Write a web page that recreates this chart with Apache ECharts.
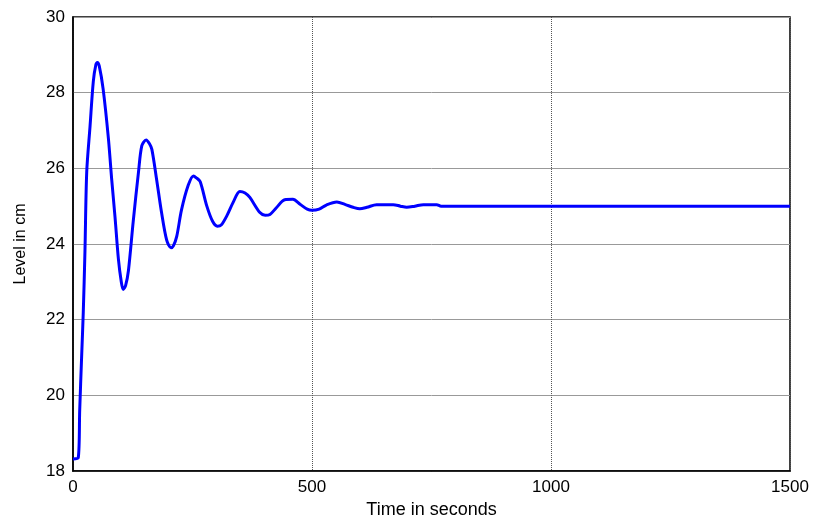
<!DOCTYPE html>
<html lang="en">
<head>
    <meta charset="UTF-8">
    <title>Level in cm</title>
    <script src="https://cdn.jsdelivr.net/npm/echarts@6/dist/echarts.min.js"></script>
    <style>
        body { margin: 0; background: #fff; }
        #chart { width: 816px; height: 524px; }
    </style>
</head>
<body>
<div id="chart"></div>
<script>
var times = [0, 11, 14, 18, 21.5, 25, 28.7, 35.6, 42.5, 48, 51, 55, 63, 74, 81, 88, 95, 101, 105, 110,
    116, 126, 137, 144, 153, 160, 165, 175, 185, 196, 205, 210, 217, 227, 241, 252, 258, 266, 280, 292,
    302, 310, 322, 335, 349, 360, 370, 391, 402, 412, 425, 443, 460, 475, 490, 500, 515, 530, 552, 570,
    586, 600, 615, 635, 670, 685, 698, 715, 733, 761, 770, 1500];
var levels = [18.32, 18.35, 19.6, 21.0, 22.2, 23.8, 25.9, 27.1, 28.3, 28.75, 28.8, 28.7, 28.1, 26.8, 25.7, 24.7, 23.6, 23.0, 22.8, 22.9,
    23.3, 24.6, 25.9, 26.6, 26.75, 26.65, 26.5, 25.7, 24.85, 24.1, 23.9, 23.95, 24.2, 24.9, 25.55, 25.8, 25.75, 25.65, 25.0, 24.6,
    24.47, 24.5, 24.75, 25.1, 25.39, 25.35, 25.23, 24.83, 24.76, 24.78, 24.95, 25.17, 25.18, 25.05, 24.92, 24.89, 24.92, 25.03, 25.11, 25.04,
    24.97, 24.93, 24.97, 25.04, 25.04, 25.0, 24.97, 25.0, 25.04, 25.04, 25.0, 25.0];
var xTicks = [0, 500, 1000, 1500];
var yTicks = [18, 20, 22, 24, 26, 28, 30];

var points = [];
for (var i = 0; i < times.length; i++) {
    points.push([times[i], levels[i]]);
}

var font = 'Liberation Sans, Arial, sans-serif';
var chart = echarts.init(document.getElementById('chart'));
var option = {
    animation: false,
    backgroundColor: '#fff',
    grid: {
        left: 73, right: 26, top: 17, bottom: 51,
        show: true,
        borderColor: '#000',
        borderWidth: 1.5
    },
    xAxis: {
        type: 'value',
        min: xTicks[0],
        max: xTicks[xTicks.length - 1],
        interval: 500,
        name: 'Time in seconds',
        nameLocation: 'middle',
        nameGap: 30,
        nameTextStyle: { fontFamily: font, fontSize: 18, color: '#000' },
        axisLine: { show: true, lineStyle: { color: '#000', width: 1.5 } },
        axisTick: { show: false },
        axisLabel: {
            fontFamily: font, fontSize: 17, color: '#000', margin: 8,
            formatter: function (v) { return String(v); }
        },
        splitLine: { show: true, lineStyle: { color: '#555', width: 1, type: [1, 1] } }
    },
    yAxis: {
        type: 'value',
        min: yTicks[0],
        max: yTicks[yTicks.length - 1],
        interval: 2,
        name: 'Level in cm',
        nameLocation: 'middle',
        nameGap: 44,
        nameTextStyle: { fontFamily: font, fontSize: 16, color: '#000' },
        axisLine: { show: true, lineStyle: { color: '#000', width: 1.5 } },
        axisTick: { show: false },
        axisLabel: { fontFamily: font, fontSize: 17, color: '#000', margin: 8 },
        splitLine: { show: true, lineStyle: { color: '#999', width: 1 } }
    },
    series: [{
        type: 'line',
        data: points,
        showSymbol: false,
        smooth: 0.3,
        lineStyle: { color: '#0000ff', width: 3 }
    }]
};
chart.setOption(option);
</script>
</body>
</html>
